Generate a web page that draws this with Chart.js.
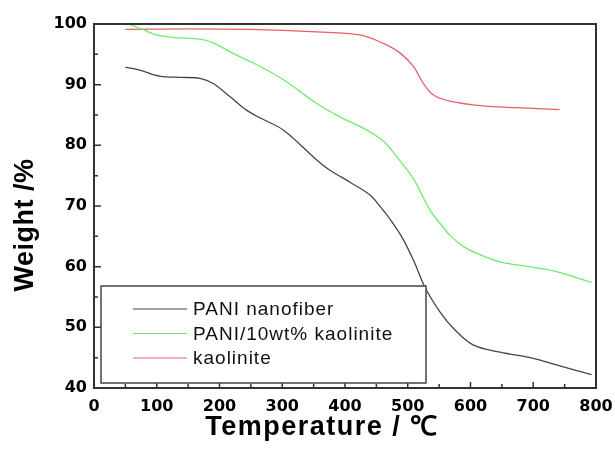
<!DOCTYPE html>
<html lang="en">
<head>
  <meta charset="UTF-8" />
  <title>TGA curves</title>
  <script src="https://cdn.jsdelivr.net/npm/chart.js"></script>
  <style>
    html, body { margin: 0; padding: 0; background: #fff; }
    #wrap { width: 615px; height: 453px; }
  </style>
</head>
<body>
  <div id="wrap"><canvas id="tga"></canvas></div>

  <script>
    // series labels
    const seriesNames = ['PANI nanofiber', 'PANI/10wt% kaolinite', 'kaolinite'];
    const xTitle = 'Temperature / \u2103';
    const yTitle = 'Weight /%';

    // PANI nanofiber
    const tempPani = [50, 73, 105, 137, 169, 190, 217, 243, 265, 302, 355, 376, 410, 440, 456, 472, 490, 509, 527, 551, 573, 604, 647, 700, 737, 793];
    const wtPani   = [92.9, 92.4, 91.4, 91.2, 91.05, 90.2, 88.0, 85.8, 84.5, 82.5, 77.6, 75.9, 73.8, 71.8, 69.9, 67.8, 65.0, 61.1, 56.7, 52.6, 49.8, 47.1, 45.9, 44.9, 43.8, 42.2];

    // PANI/10wt% kaolinite
    const tempComp = [52, 73, 100, 126, 169, 190, 217, 243, 265, 302, 355, 392, 435, 461, 472, 488, 509, 535, 551, 567, 589, 610, 647, 700, 737, 793];
    const wtComp   = [100.1, 99.3, 98.2, 97.8, 97.5, 96.9, 95.4, 94.1, 93.0, 90.8, 86.9, 84.7, 82.5, 80.7, 79.5, 77.4, 74.5, 69.4, 67.2, 65.2, 63.3, 62.2, 60.8, 59.9, 59.2, 57.4];

    // kaolinite
    const tempKao = [50, 150, 249, 355, 424, 461, 488, 509, 525, 541, 567, 620, 674, 742];
    const wtKao   = [99.1, 99.2, 99.1, 98.7, 98.2, 96.8, 95.2, 93.0, 90.2, 88.3, 87.3, 86.5, 86.2, 85.9];

    // axis ticks
    const xTicks = [0, 100, 200, 300, 400, 500, 600, 700, 800];
    const yTicks = [40, 50, 60, 70, 80, 90, 100];

    const colors = ['rgb(70,70,70)', 'rgb(110,235,110)', 'rgb(232,95,105)'];

    function pts(xs, ys) {
      return xs.map((x, i) => ({ x: x, y: ys[i] }));
    }

    // frame, inside ticks, titles and boxed legend
    const decor = {
      id: 'decor',
      afterDraw(chart) {
        const ctx = chart.ctx;
        const a = chart.chartArea;
        const xs = chart.scales.x, ys = chart.scales.y;
        ctx.save();
        ctx.strokeStyle = '#333';
        ctx.lineWidth = 2;
        ctx.strokeRect(a.left, a.top, a.right - a.left, a.bottom - a.top);

        ctx.lineWidth = 1.5;
        ctx.beginPath();
        for (let i = 0; i < xTicks.length; i++) {
          const px = xs.getPixelForValue(xTicks[i]);
          ctx.moveTo(px, a.bottom); ctx.lineTo(px, a.bottom - 6);
          if (i < xTicks.length - 1) {
            const mx = xs.getPixelForValue((xTicks[i] + xTicks[i + 1]) / 2);
            ctx.moveTo(mx, a.bottom); ctx.lineTo(mx, a.bottom - 4);
          }
        }
        for (let i = 0; i < yTicks.length; i++) {
          const py = ys.getPixelForValue(yTicks[i]);
          ctx.moveTo(a.left, py); ctx.lineTo(a.left + 7, py);
          if (i < yTicks.length - 1) {
            const my = ys.getPixelForValue((yTicks[i] + yTicks[i + 1]) / 2);
            ctx.moveTo(a.left, my); ctx.lineTo(a.left + 4, my);
          }
        }
        ctx.stroke();

        // titles
        ctx.fillStyle = '#000';
        ctx.font = 'bold 27px "Liberation Sans", Arial, sans-serif';
        ctx.letterSpacing = '1.5px';
        ctx.textAlign = 'center';
        ctx.textBaseline = 'alphabetic';
        ctx.fillText(xTitle, 322, 435);
        ctx.letterSpacing = '0.5px';
        ctx.save();
        ctx.translate(33, 225);
        ctx.rotate(-Math.PI / 2);
        ctx.fillText(yTitle, 0, 0);
        ctx.restore();

        // legend box
        const lx = a.left + 7, lb = a.bottom - 5;
        const lw = 325, lh = 97;
        ctx.fillStyle = '#fff';
        ctx.fillRect(lx, lb - lh, lw, lh);
        ctx.strokeStyle = '#444';
        ctx.lineWidth = 1.5;
        ctx.strokeRect(lx, lb - lh, lw, lh);
        ctx.font = '19px "Liberation Sans", Arial, sans-serif';
        ctx.letterSpacing = '1px';
        ctx.textAlign = 'left';
        ctx.textBaseline = 'middle';
        chart.data.datasets.forEach((ds, i) => {
          const ry = lb - lh + 23 + i * 24.5;
          ctx.strokeStyle = ds.borderColor;
          ctx.lineWidth = 1;
          ctx.beginPath();
          ctx.moveTo(lx + 32, ry); ctx.lineTo(lx + 86, ry);
          ctx.stroke();
          ctx.fillStyle = '#111';
          ctx.fillText(ds.label, lx + 92, ry + 1);
        });
        ctx.restore();
      }
    };

    const tickFont = { family: '"DejaVu Sans", sans-serif', size: 16, weight: 'bold' };

    new Chart(document.getElementById('tga'), {
      type: 'line',
      data: {
        datasets: [
          { label: seriesNames[0], data: pts(tempPani, wtPani), borderColor: colors[0] },
          { label: seriesNames[1], data: pts(tempComp, wtComp), borderColor: colors[1] },
          { label: seriesNames[2], data: pts(tempKao, wtKao), borderColor: colors[2] }
        ]
      },
      options: {
        responsive: true,
        maintainAspectRatio: false,
        animation: false,
        clip: false,
        layout: { padding: { top: 24, right: 19, left: 0, bottom: 0 } },
        elements: {
          point: { radius: 0 },
          line: { borderWidth: 1.3, tension: 0.35 }
        },
        scales: {
          x: {
            type: 'linear',
            min: 0, max: 800,
            grid: { display: false, drawTicks: false },
            border: { display: false },
            afterBuildTicks: s => { s.ticks = xTicks.map(v => ({ value: v })); },
            afterFit: s => { s.height = 65; s.paddingLeft = 0; s.paddingRight = 0; },
            ticks: { padding: 9, color: '#000', font: tickFont }
          },
          y: {
            min: 40, max: 100,
            grid: { display: false, drawTicks: false },
            border: { display: false },
            afterBuildTicks: s => { s.ticks = yTicks.map(v => ({ value: v })); },
            afterFit: s => { s.width = 94; s.paddingTop = 0; s.paddingBottom = 0; },
            ticks: { padding: 7, color: '#000', font: tickFont }
          }
        },
        plugins: {
          legend: { display: false },
          tooltip: { enabled: false }
        }
      },
      plugins: [decor]
    });
  </script>
</body>
</html>
